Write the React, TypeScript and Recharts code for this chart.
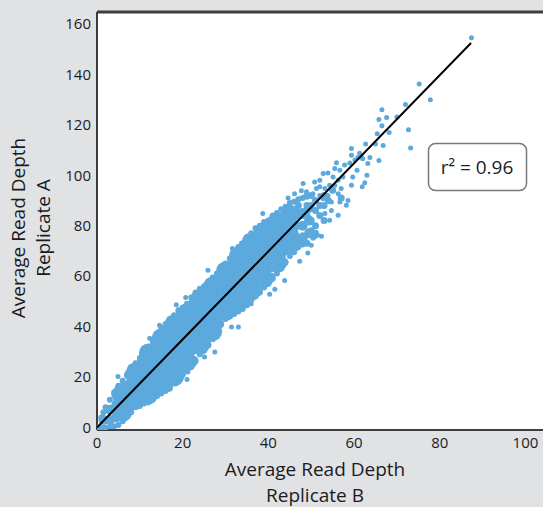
import React from 'react';
import { ScatterChart, Scatter, XAxis, YAxis, CartesianGrid, ReferenceLine } from 'recharts';

type Pt = [number, number];

const xTicks = [0, 20, 40, 60, 80, 100];
const yTicks = [0, 20, 40, 60, 80, 100, 120, 140, 160];
const fitLine: Pt[] = [[0, 0], [87.3, 152.4]];

// dense middle of the cloud
const coreBand: Pt[] = [
  [6, 6], [6, 11], [6, 14],
  [9, 11], [9, 15.5], [9, 20], [9, 22],
  [12, 13], [12, 18], [12, 23], [12, 28], [12, 29.5],
  [15, 17], [15, 22], [15, 27], [15, 32], [15, 35.5],
  [18, 20], [18, 25], [18, 30], [18, 35], [18, 40], [18, 41],
  [21, 26], [21, 31], [21, 36], [21, 41], [21, 45.5],
  [24, 32.5], [24, 36], [24, 41], [24, 46], [24, 51],
  [27, 38], [27, 42], [27, 47], [27, 52], [27, 56],
  [30, 46], [30, 50], [30, 55], [30, 60], [30, 62],
  [33, 49.5], [33, 54], [33, 59], [33, 64], [33, 68],
  [36, 54], [36, 59], [36, 64], [36, 69], [36, 73.5],
  [39, 59], [39, 64], [39, 69], [39, 74], [39, 77.5],
  [42, 65], [42, 69], [42, 74], [42, 79], [42, 81.5],
  [45, 72], [45, 76], [45, 80], [45, 84.5],
];

// second layer, smooths the scallops of the big dots
const shoulders: Pt[] = [
  [1.5, 3], [3, 3], [3, 7], [4.5, 4], [4.5, 9], [4.5, 13], [7.5, 7], [7.5, 17], [7.5, 21],
  [10.5, 10.5], [10.5, 26.5], [13.5, 13], [13.5, 33], [16.5, 16], [16.5, 39.5], [19.5, 21], [19.5, 44.5],
  [22.5, 26.5], [22.5, 49.5], [25.5, 33], [25.5, 54.5], [28.5, 41], [28.5, 59.5], [31.5, 46.5], [31.5, 65],
  [34.5, 49.5], [34.5, 72], [37.5, 54], [37.5, 76.5], [40.5, 59.5], [40.5, 80.5], [43.5, 65.5], [43.5, 83.5],
  [46.5, 72], [46.5, 85], [48, 75], [48, 80], [48, 85], [49.5, 77], [49.5, 82], [49.5, 87],
];

const upperEdge: Pt[] = [
  [1, 4], [1.5, 6], [2, 8], [3, 11], [4, 14], [5, 16.5], [6, 18.5], [7, 20.5], [8, 24], [9, 25.5],
  [10, 27.5], [11, 30.5], [12, 32], [13, 34.5], [14, 36.5], [15, 39.5], [16, 41], [17, 43], [18, 44.5], [19, 46.5],
  [20, 47.5], [21, 49], [22, 51.5], [23, 53.5], [24, 55], [25, 56], [26, 58], [27, 59.5], [28, 61], [29, 63.5],
  [30, 65], [31, 67], [32, 69], [33, 71.5], [34, 73], [35, 75.5], [36, 77], [37, 79], [38, 80], [39, 81.5],
  [40, 82], [41, 84], [42, 85], [43, 86.5], [44, 87.5], [45, 89], [46, 89.5], [47, 90.5], [48, 91], [49, 91.5],
];

const lowerEdge: Pt[] = [
  [0, 0], [1, 0], [2, 0], [3, 0.5], [4, 0.5], [5, 1], [6, 2.5], [7, 4.5], [8, 6], [9, 8],
  [10, 8.5], [11, 9.5], [12, 10], [13, 11], [14, 12.5], [15, 13.5], [16, 14.5], [17, 15.5], [18, 17.5], [19, 19.5],
  [20, 21], [21, 22.5], [22, 24], [23, 26.5], [24, 29], [25, 30.5], [26, 32.5], [27, 35], [28, 38], [29, 41],
  [30, 43], [31, 44], [32, 45], [33, 46], [34, 47], [35, 48.5], [36, 50.5], [37, 52], [38, 53.5], [39, 55.5],
  [40, 57], [41, 59], [42, 61], [43, 63], [44, 65.5], [45, 68], [46, 69.5], [47, 71.5], [48, 72.5],
];

// patchy part where the cloud starts to break up
const patchyCluster: Pt[] = [
  [47, 74], [47, 80], [48, 76], [48, 84], [49, 88], [50, 78], [50, 82], [51, 86], [52, 84], [46, 74],
  [53, 88], [47, 88], [49, 92], [46, 84], [46, 79], [51, 90], [48, 80], [49, 84], [50, 88], [47, 84],
  [51, 80], [52, 88], [54, 90], [50, 92], [53, 92], [55, 94], [57, 91], [53, 82], [51, 77], [49, 73],
];

const scattered: Pt[] = [
  [87.4, 154.5], [75.2, 136.2], [77.8, 129.9], [72, 128], [66.5, 126], [67.6, 122.9], [65.8, 122.1], [70, 123.1],
  [66.5, 119.6], [72.7, 118], [68.2, 116.9], [65.4, 116.4], [62.7, 112.4], [65, 112.4], [66.8, 111.8], [73.2, 110.8],
  [61.3, 108.7], [63.7, 107], [65.8, 105.8], [61.7, 107.3], [59.4, 110.6], [59.4, 107.9], [60.9, 107], [62, 106.5],
  [63.2, 104.6], [57.8, 104], [55.9, 104.9], [56.7, 102], [55.5, 102.7], [59, 104.8], [60.2, 106], [60.7, 102],
  [63, 100], [59.7, 99.3], [62.5, 97], [61.9, 95.4], [57.4, 99.3], [52.8, 100.7], [53.9, 100.9], [55.1, 99.3],
  [48.1, 96.7], [50.8, 97.3], [52, 98], [56.3, 98], [57, 94.7], [59.4, 96], [46.1, 92.7], [44.6, 91],
  [47.7, 93.8], [48.9, 93.4], [50.4, 92.7], [51.2, 94.7], [52, 95.4], [53.2, 94.7], [54.3, 96], [55.5, 96],
  [52, 92], [52.8, 90.7], [53.9, 92], [56.3, 92.7], [54.7, 89.4], [56.7, 89.4], [58.6, 90], [58.2, 88.1],
  [56.3, 84.1], [54.7, 86], [53.2, 84.8], [54.3, 82.1], [51.5, 76.2], [52.4, 75.8], [50.8, 75.5], [50, 72.2],
  [50.4, 75], [21, 19], [19.7, 19.6], [21.2, 22], [12.3, 35.4], [18.5, 48.7], [4.9, 20.2], [14.6, 40.5],
  [25.1, 27.9], [25.9, 33.9], [27.5, 29.9], [33, 39.8], [31.4, 39.8], [40.3, 52.8], [41.5, 54.8], [43.8, 58.3],
  [36, 49], [47.3, 65.9], [49.2, 69.2], [25.9, 62.3], [38.7, 84.8], [20.7, 51.5], [31.6, 70.9], [33.7, 72.9],
];

const BLUE = '#5ba9dd';
const AXIS = '#3d3d3f';
const TEXT = '#1b1b1d';
const FONT = '"Open Sans", sans-serif';

const toRows = (pts: Pt[]) => pts.map(([x, y]) => ({ x, y }));
const dot = (r: number) => (p: any) => <circle cx={p.cx} cy={p.cy} r={r} fill={BLUE} />;

export default function App() {
  return (
    <div style={{ position: 'absolute', left: 0, top: 0, width: 543, height: 507, background: '#e1e2e4', overflow: 'hidden' }}>
      <ScatterChart width={543} height={507} margin={{ top: 12, right: 0, bottom: 47, left: 0 }}>
        <CartesianGrid horizontal={false} vertical={false} fill="#fff" />
        <XAxis
          type="number"
          dataKey="x"
          domain={[0, 104.1]}
          ticks={xTicks}
          height={30}
          interval={0}
          tickLine={false}
          tickSize={0}
          tickMargin={7}
          allowDataOverflow
          stroke={AXIS}
          strokeWidth={2}
          tick={{ fontSize: 15, fill: TEXT, fontFamily: FONT }}
        />
        <YAxis
          type="number"
          dataKey="y"
          domain={[-1, 164.7]}
          ticks={yTicks}
          width={97}
          interval={0}
          tickLine={false}
          tickSize={0}
          tickMargin={6}
          allowDataOverflow
          stroke={AXIS}
          strokeWidth={2}
          tick={{ fontSize: 15, fill: TEXT, fontFamily: FONT }}
        />
        <ReferenceLine y={164.7} stroke={AXIS} strokeWidth={3} />
        <Scatter data={toRows(coreBand)} shape={dot(9.5)} isAnimationActive={false} />
        <Scatter data={toRows(shoulders)} shape={dot(5)} isAnimationActive={false} />
        <Scatter data={toRows(upperEdge)} shape={dot(3)} isAnimationActive={false} />
        <Scatter data={toRows(lowerEdge)} shape={dot(3)} isAnimationActive={false} />
        <Scatter data={toRows(patchyCluster)} shape={dot(3.5)} isAnimationActive={false} />
        <Scatter data={toRows(scattered)} shape={dot(2.5)} isAnimationActive={false} />
        <Scatter
          data={toRows(fitLine)}
          line={{ stroke: '#000', strokeWidth: 2 }}
          shape={() => <g />}
          isAnimationActive={false}
        />
        <g fontFamily={FONT} fill={TEXT} fontSize={19} textAnchor="middle">
          <text x={315} y={476}>Average Read Depth</text>
          <text x={315} y={502}>Replicate B</text>
          <text transform="translate(25,228) rotate(-90)">Average Read Depth</text>
          <text transform="translate(50,228) rotate(-90)">Replicate A</text>
          <rect x={428.5} y={143.5} width={98} height={47} rx={7} fill="#fff" stroke="#77787a" strokeWidth={1.5} />
          <text x={477} y={174}>r² = 0.96</text>
        </g>
      </ScatterChart>
    </div>
  );
}
